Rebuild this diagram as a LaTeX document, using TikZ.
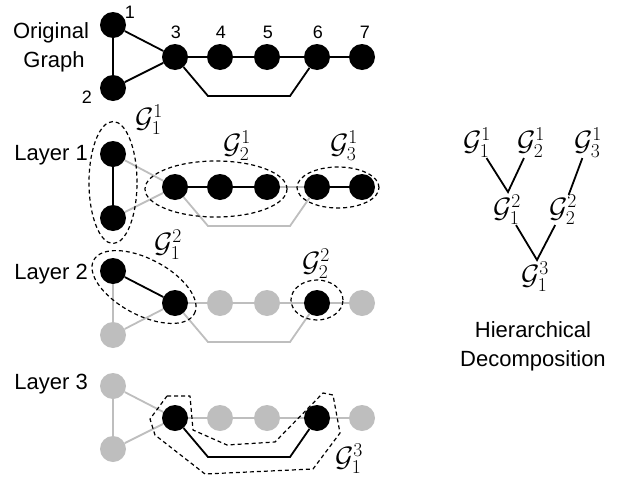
\RequirePackage{fix-cm}
\documentclass[tikz,border=0pt]{standalone}
\usepackage{fontspec}
\setmainfont{Liberation Sans}
\usetikzlibrary{shapes.geometric}
\definecolor{lightgr}{RGB}{190,190,190}
\begin{document}
\begin{tikzpicture}[x=1pt,y=-1pt,
  vtx/.style={circle,fill=black,inner sep=0pt,minimum size=26pt},
  gvtx/.style={vtx,fill=lightgr},
  bedge/.style={draw=black,line width=1.8pt},
  gedge/.style={draw=lightgr,line width=1.8pt},
  grp/.style={draw,ellipse,line width=1.2pt,dash pattern=on 4pt off 3pt,inner sep=0pt},
  txt/.style={font=\fontsize{22}{26}\selectfont,inner sep=0pt},
  num/.style={font=\fontsize{18}{20}\selectfont,inner sep=0pt},
  lbl/.style={font=\fontsize{28}{30}\selectfont,inner sep=0pt},
  tree/.style={draw=black,line width=1.8pt},
]
\useasboundingbox (0,0) rectangle (630,477);

% ---------------- Original graph ----------------
\node[txt,anchor=base] (tOrig)  at (51,38) {Original};
\node[txt,anchor=base] (tGraph) at (54,67) {Graph};
\node[vtx] (o1) at (113,25) {};
\node[vtx] (o2) at (113,88) {};
\node[vtx] (o3) at (175,57) {};
\node[vtx] (o4) at (220,57) {};
\node[vtx] (o5) at (267,57) {};
\node[vtx] (o6) at (317,57) {};
\node[vtx] (o7) at (362,57) {};
\draw[bedge] (o1)--(o2) (o1)--(o3) (o2)--(o3) (o3)--(o4) (o4)--(o5) (o5)--(o6) (o6)--(o7);
\draw[bedge] (o3) -- ([shift={(33,39)}]o3.center) -- ([shift={(-27,39)}]o6.center) -- (o6);
\node[num] (d1) at (130,12) {1};
\node[num] (d2) at (87,97) {2};
\node[num] (d3) at (176,32) {3};
\node[num] (d4) at (221,32) {4};
\node[num] (d5) at (268,32) {5};
\node[num] (d6) at (318,32) {6};
\node[num] (d7) at (365,32) {7};

% ---------------- Layer 1 ----------------
\node[txt,anchor=base east] (tL1) at (88,160) {Layer 1};
\node[vtx] (a1) at (113,154) {};
\node[vtx] (a2) at (113,218) {};
\node[vtx] (a3) at (175,187) {};
\node[vtx] (a4) at (220,187) {};
\node[vtx] (a5) at (267,187) {};
\node[vtx] (a6) at (317,187) {};
\node[vtx] (a7) at (362,187) {};
\draw[gedge] (a1)--(a3) (a2)--(a3) (a5)--(a6);
\draw[gedge] (a3) -- ([shift={(33,39)}]a3.center) -- ([shift={(-27,39)}]a6.center) -- (a6);
\draw[bedge] (a1)--(a2) (a3)--(a4) (a4)--(a5) (a6)--(a7);
\node[grp,minimum width=48pt,minimum height=122pt] (g11) at (113,182.5) {};
\node[grp,minimum width=142pt,minimum height=56pt] (g21) at (216,189) {};
\node[grp,minimum width=82pt,minimum height=41pt] (g31) at (338,187.5) {};
\node[lbl] (lg11) at (149,120) {$\mathcal{G}^1_1$};
\node[lbl] (lg21) at (237,146) {$\mathcal{G}^1_2$};
\node[lbl] (lg31) at (344,146) {$\mathcal{G}^1_3$};

% ---------------- Layer 2 ----------------
\node[txt,anchor=base east] (tL2) at (88,279) {Layer 2};
\node[vtx]  (b1) at (113,271) {};
\node[gvtx] (b2) at (113,335) {};
\node[vtx]  (b3) at (175,303) {};
\node[gvtx] (b4) at (220,303) {};
\node[gvtx] (b5) at (267,303) {};
\node[vtx]  (b6) at (317,303) {};
\node[gvtx] (b7) at (362,303) {};
\draw[gedge] (b1)--(b2) (b2)--(b3) (b3)--(b4) (b4)--(b5) (b5)--(b6) (b6)--(b7);
\draw[gedge] (b3) -- ([shift={(33,39)}]b3.center) -- ([shift={(-27,39)}]b6.center) -- (b6);
\draw[bedge] (b1)--(b3);
\node[grp,minimum width=114pt,minimum height=56pt,rotate=-28] (g12) at (144,287) {};
\node[grp,minimum width=52pt,minimum height=40pt] (g22) at (317,300) {};
\node[lbl] (lg12) at (168,245) {$\mathcal{G}^2_1$};
\node[lbl] (lg22) at (316,264) {$\mathcal{G}^2_2$};

% ---------------- Layer 3 ----------------
\node[txt,anchor=base east] (tL3) at (88,389) {Layer 3};
\node[gvtx] (c1) at (113,386) {};
\node[gvtx] (c2) at (113,449) {};
\node[vtx]  (c3) at (175,418) {};
\node[gvtx] (c4) at (220,418) {};
\node[gvtx] (c5) at (267,418) {};
\node[vtx]  (c6) at (317,418) {};
\node[gvtx] (c7) at (362,418) {};
\draw[gedge] (c1)--(c2) (c1)--(c3) (c2)--(c3) (c3)--(c4) (c4)--(c5) (c5)--(c6) (c6)--(c7);
\draw[bedge] (c3) -- ([shift={(33,39)}]c3.center) -- ([shift={(-27,39)}]c6.center) -- (c6);
\draw[line width=1.2pt,dash pattern=on 4pt off 3pt,line join=round]
  (167,396) -- (190,396) -- (193,430) -- (227,445) -- (275,442) -- (323,393)
  -- (333,395) -- (340,433) -- (313,469) -- (205,474) -- (155,435) -- (150,419) -- cycle;
\node[lbl] (lg13) at (349,459) {$\mathcal{G}^3_1$};

% ---------------- Hierarchy tree ----------------
\node[lbl] (t11) at (477,143) {$\mathcal{G}^1_1$};
\node[lbl] (t21) at (531,143) {$\mathcal{G}^1_2$};
\node[lbl] (t31) at (588,143) {$\mathcal{G}^1_3$};
\node[lbl] (t12) at (507,210) {$\mathcal{G}^2_1$};
\node[lbl] (t22) at (563,210) {$\mathcal{G}^2_2$};
\node[lbl] (t13) at (535,277) {$\mathcal{G}^3_1$};
\coordinate (v1) at (508,192);
\coordinate (v2) at (537,260);
\draw[tree] (t11) -- (v1) -- (t21);
\draw[tree] (t31) -- (t22);
\draw[tree] (t12) -- (v2) -- (t22);
\node[txt,anchor=base] (th1) at (533,337) {Hierarchical};
\node[txt,anchor=base] (th2) at (533,366) {Decomposition};
\end{tikzpicture}
\end{document}
